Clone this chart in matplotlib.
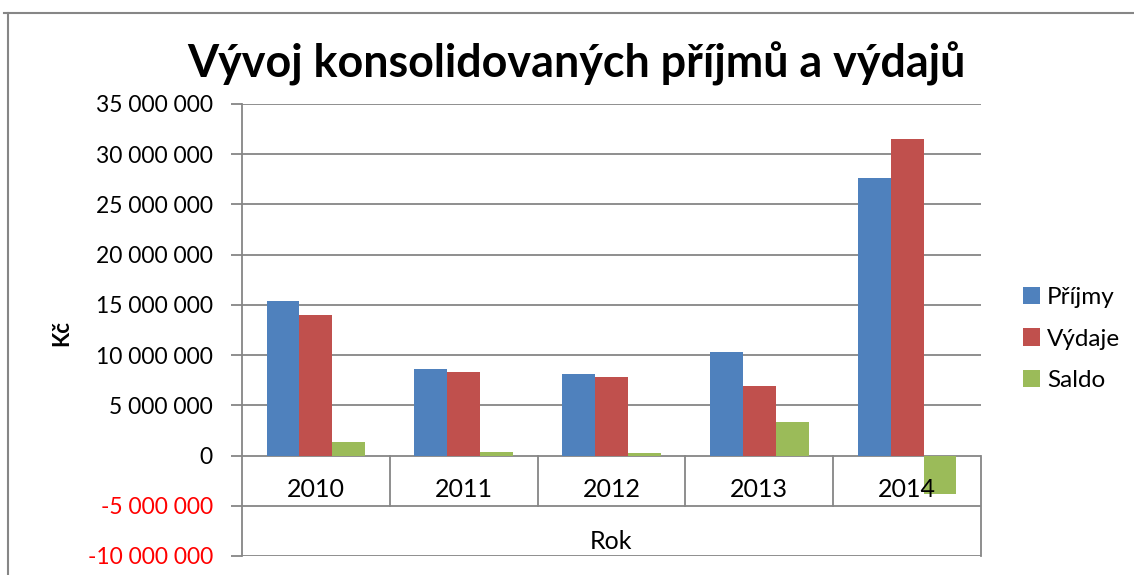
import matplotlib.pyplot as plt
from matplotlib.lines import Line2D
from matplotlib.patches import Patch

plt.rcParams["font.family"] = ["Lato", "DejaVu Sans"]

years = ["2010", "2011", "2012", "2013", "2014"]
prijmy = [15.37e6, 8.65e6, 8.1e6, 10.27e6, 27.6e6]
vydaje = [14.04e6, 8.27e6, 7.8e6, 6.97e6, 31.47e6]
saldo = [1.33e6, 0.38e6, 0.3e6, 3.3e6, -3.87e6]
series = [("Příjmy", prijmy, "#4F81BD"), ("Výdaje", vydaje, "#C0504D"), ("Saldo", saldo, "#9BBB59")]
yticks = list(range(-10_000_000, 35_000_001, 5_000_000))

W, H = 1134, 575
grid_c = "#868686"

fig = plt.figure(figsize=(W / 100, H / 100), dpi=100)
ax = fig.add_axes([242 / W, (H - 556) / H, (981 - 242) / W, (556 - 104) / H])

n = len(years)
bw = 1 / 4.5
for i, (name, vals, col) in enumerate(series):
    xs = [k + (i - 1) * bw for k in range(n)]
    ax.bar(xs, vals, width=bw, color=col, label=name, zorder=3, linewidth=0)

ax.set_xlim(-0.5, n - 0.5)
ax.set_ylim(yticks[0], yticks[-1])

for t in yticks:
    ax.axhline(t, color=grid_c, lw=1.3, zorder=1)

# category table below zero line
for k in range(1, n):
    ax.plot([k - 0.5, k - 0.5], [0, -5e6], color=grid_c, lw=1.3, zorder=1)
ax.plot([n - 0.5, n - 0.5], [0, -10e6], color=grid_c, lw=1.3, zorder=1, clip_on=False)
for k, y in enumerate(years):
    ax.text(k, -3.4e6, y, ha="center", va="center", fontsize=18)
ax.text((n - 1) / 2, -8.6e6, "Rok", ha="center", va="center", fontsize=18)

for s in ["top", "right", "bottom"]:
    ax.spines[s].set_visible(False)
ax.spines["left"].set_color(grid_c)
ax.spines["left"].set_linewidth(1.3)
ax.set_xticks([])
ax.set_yticks(yticks)
ax.set_yticklabels([f"{t:,}".replace(",", " ") for t in yticks], fontsize=16.5)
ax.tick_params(axis="y", length=8, color=grid_c, width=1.3, pad=13)
for lab, t in zip(ax.get_yticklabels(), yticks):
    if t < 0:
        lab.set_color("#FF0000")

fig.text(62 / W, 1 - 333 / H, "Kč", rotation=90, ha="center", va="center",
         fontsize=16, fontweight="bold")
fig.text(576 / W, 1 - 64 / H, "Vývoj konsolidovaných příjmů a výdajů",
         ha="center", va="center", fontsize=32.3, fontweight="bold")

handles = [Patch(facecolor=c, label=nm) for nm, _, c in series]
fig.legend(handles=handles, loc="center left", bbox_to_anchor=(1001 / W, 1 - 339 / H),
           frameon=False, fontsize=17.5, handlelength=0.7, handleheight=0.7,
           handletextpad=0.3, labelspacing=0.85)

# chart border
fig.add_artist(Line2D([4 / W, 1], [1 - 13 / H, 1 - 13 / H], color=grid_c, lw=1.5))
fig.add_artist(Line2D([8 / W, 8 / W], [1 - 13 / H, 0], color=grid_c, lw=1.5))

fig.savefig("out.png", dpi=100)
